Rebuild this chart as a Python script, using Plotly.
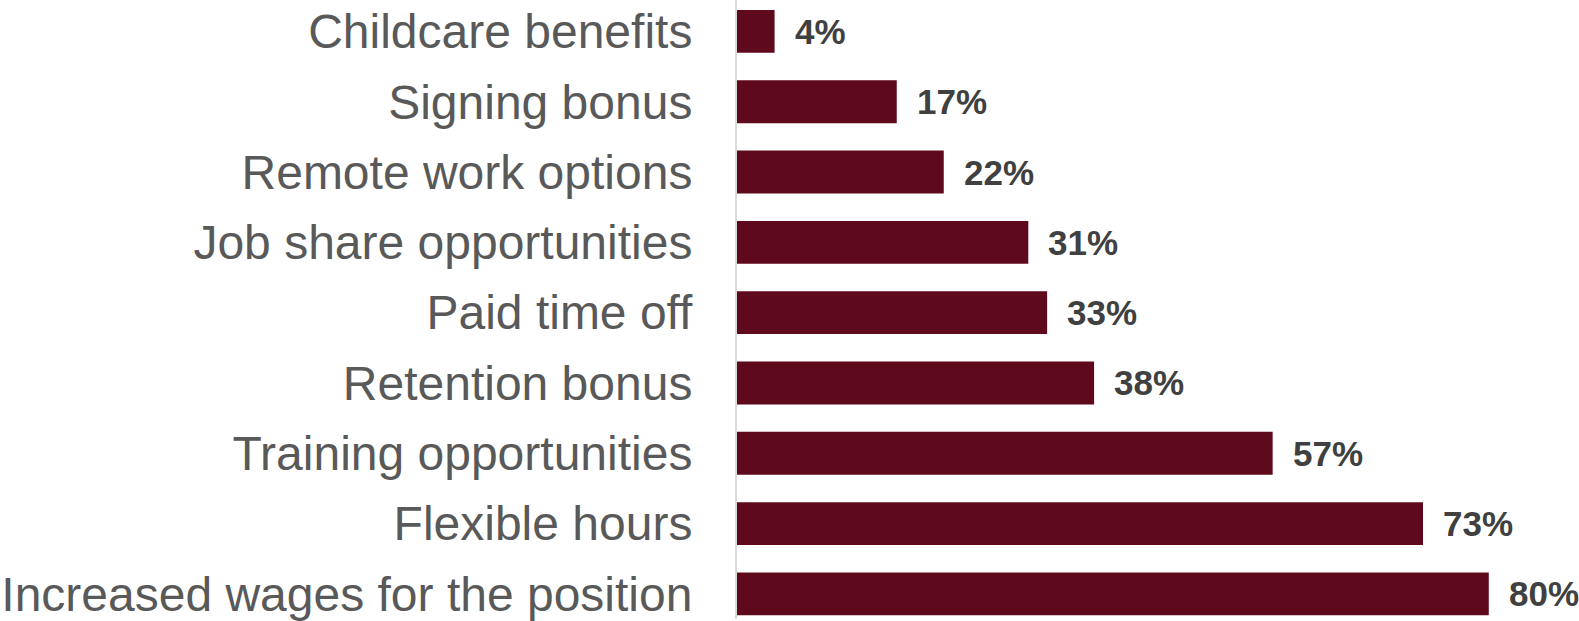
import plotly.graph_objects as go

# Share of respondents selecting each incentive (%)
categories = [
    "Childcare benefits",
    "Signing bonus",
    "Remote work options",
    "Job share opportunities",
    "Paid time off",
    "Retention bonus",
    "Training opportunities",
    "Flexible hours",
    "Increased wages for the position",
]
values = [4, 17, 22, 31, 33, 38, 57, 73, 80]
value_labels = [f"{v}%" for v in values]

BAR_COLOR = "#5F0A1C"
FONT = "Liberation Sans, Arial, sans-serif"

fig = go.Figure(
    go.Bar(
        x=values,
        y=categories,
        orientation="h",
        marker=dict(color=BAR_COLOR, line=dict(width=0)),
        hoverinfo="skip",
    )
)

# Value labels placed just past the end of each bar
for cat, val, lab in zip(categories, values, value_labels):
    fig.add_annotation(
        x=val,
        y=cat,
        text=f"<b>{lab}</b>",
        showarrow=False,
        xanchor="left",
        yanchor="middle",
        xshift=18,
        font=dict(family=FONT, size=35, color="#404040"),
    )

fig.update_layout(
    width=1579,
    height=621,
    margin=dict(l=737, r=0, t=0, b=0),
    paper_bgcolor="white",
    plot_bgcolor="white",
    bargap=0.39,
    showlegend=False,
    font=dict(family=FONT),
)

fig.update_xaxes(
    range=[0, 89.6],
    showgrid=False,
    zeroline=False,
    showticklabels=False,
    showline=False,
)

fig.update_yaxes(
    type="category",
    categoryorder="array",
    categoryarray=categories,
    range=[8.357, -0.4466],
    showgrid=False,
    zeroline=False,
    showline=True,
    linecolor="#D9D9D9",
    linewidth=2,
    ticks="",
    ticklabelstandoff=33,
    tickfont=dict(family=FONT, size=48, color="#595959"),
)

fig.write_html("out.html")
